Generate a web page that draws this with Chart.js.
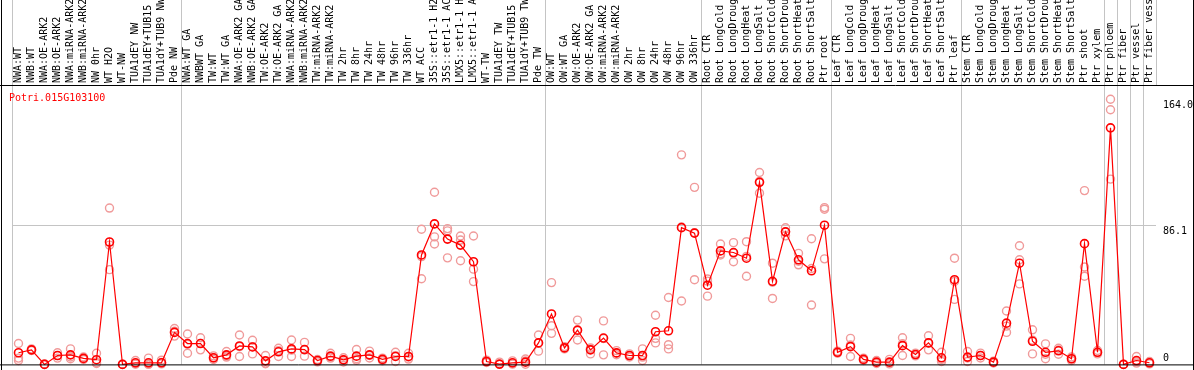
<!DOCTYPE html>
<html><head><meta charset="utf-8">
<script src="https://cdn.jsdelivr.net/npm/chart.js@4.4.1/dist/chart.umd.min.js"></script>
<style>html,body{margin:0;padding:0;background:#fff;overflow:hidden}canvas{display:block}</style>
</head><body>
<canvas id="c" width="1194" height="370"></canvas>
<script>
const geneId = 'Potri.015G103100';

const categories = [
  'NWA:WT','NWB:WT','NWA:OE-ARK2','NWB:OE-ARK2','NWA:miRNA-ARK2','NWB:miRNA-ARK2','NW 0hr','WT H2O','WT-NW',
  'TUA1dEY NW','TUA1dEY+TUB15 NW','TUA1dY+TUB9 NW','Pde NW',
  'NWA:WT GA','NWBWT GA','TW:WT','TW:WT GA','NWA:OE-ARK2 GA','NWB:OE-ARK2 GA','TW:OE-ARK2','TW:OE-ARK2 GA',
  'NWA:miRNA-ARK2 GA','NWB:miRNA-ARK2 GA','TW:miRNA-ARK2','TW:miRNA-ARK2',
  'TW 2hr','TW 8hr','TW 24hr','TW 48hr','TW 96hr','TW 336hr','WT ACC',
  '35S::etr1-1 H2O','35S::etr1-1 ACC','LMX5::etr1-1 H2O','LMX5::etr1-1 ACC','WT-TW',
  'TUA1dEY TW','TUA1dEY+TUB15 TW','TUA1dY+TUB9 TW','Pde TW',
  'OW:WT','OW:WT GA','OW:OE-ARK2','OW:OE-ARK2 GA','OW:miRNA-ARK2','OW:miRNA-ARK2',
  'OW 2hr','OW 8hr','OW 24hr','OW 48hr','OW 96hr','OW 336hr',
  'Root CTR','Root LongCold','Root LongDrought','Root LongHeat','Root LongSalt',
  'Root ShortCold','Root ShortDrought','Root ShortHeat','Root ShortSalt','Ptr root',
  'Leaf CTR','Leaf LongCold','Leaf LongDrought','Leaf LongHeat','Leaf LongSalt',
  'Leaf ShortCold','Leaf ShortDrought','Leaf ShortHeat','Leaf ShortSalt','Ptr leaf',
  'Stem CTR','Stem LongCold','Stem LongDrought','Stem LongHeat','Stem LongSalt',
  'Stem ShortCold','Stem ShortDrought','Stem ShortHeat','Stem ShortSalt',
  'Ptr shoot','Ptr xylem','Ptr phloem','Ptr fiber','Ptr vessel','Ptr fiber vessel'
];

const meanValues = [
  7.2, 9.0, 0.0, 5.5, 5.9, 3.7, 2.9, 75.7, 0.0,
  1.0, 1.0, 1.0, 19.8,
  12.9, 12.9, 4.1, 5.9, 11.4, 10.8, 2.2, 7.8,
  9.6, 9.2, 2.4, 5.1,
  2.8, 5.1, 5.9, 3.1, 4.9, 4.9, 67.7,
  86.9, 77.5, 73.8, 63.5, 1.8,
  0.2, 1.0, 1.4, 13.3,
  31.2, 10.2, 21.2, 9.0, 16.3, 7.1,
  5.5, 5.5, 20.2, 20.8, 84.6, 81.2,
  49.0, 70.2, 69.2, 65.7, 112.6,
  51.4, 82.0, 64.7, 57.9, 86.1,
  7.5, 11.0, 3.1, 1.4, 1.4,
  11.6, 6.1, 13.3, 4.1, 52.4,
  4.5, 5.5, 1.4, 25.5, 62.6,
  14.3, 7.5, 8.4, 3.5,
  74.7, 7.5, 146.3, 0.0, 2.4, 1.0
];

const replicateValues = [
  [12.9, 3.9, 2.4], [9.6, 8.6, 8.8], [0.3, 0.0, 0.1], [7.2, 3.9, 5.4], [9.6, 3.5, 4.6], [4.6, 3.0, 3.5], [6.9, 1.2, 0.6], [96.7, 73.8, 58.6], [0.0, 0.1, 0.0],
  [2.4, 0.4, 0.2], [3.9, 0.3, 0.0], [2.6, 1.2, 0.3], [22.2, 20.5, 17.5],
  [18.8, 12.5, 6.9], [16.5, 13.0, 9.0], [5.3, 3.0, 4.0], [8.0, 4.5, 5.2], [18.2, 11.0, 4.9], [14.9, 10.9, 6.5], [5.5, 0.8, 0.4], [10.0, 8.5, 4.9],
  [15.1, 8.8, 4.9], [13.6, 8.9, 5.1], [3.0, 2.6, 1.6], [6.9, 4.5, 3.9],
  [4.1, 2.8, 1.5], [9.2, 3.5, 2.6], [8.2, 5.5, 4.0], [3.9, 3.1, 2.3], [7.5, 5.4, 1.8], [6.9, 4.5, 3.3], [83.6, 66.7, 53.0],
  [106.5, 78.9, 74.5], [84.0, 82.6, 65.9], [79.4, 76.9, 64.1], [79.4, 58.9, 51.2], [2.6, 1.8, 1.2],
  [1.4, 0.0, 0.0], [2.2, 0.6, 0.2], [3.3, 2.2, 0.1], [18.2, 13.4, 8.2],
  [50.6, 23.9, 19.2], [11.0, 10.0, 9.6], [27.4, 21.0, 15.1], [10.2, 9.5, 6.5], [26.9, 16.0, 5.9], [8.5, 7.0, 6.0],
  [6.5, 5.4, 4.6], [9.6, 4.5, 2.4], [30.4, 16.1, 13.3], [41.4, 12.2, 9.6], [129.6, 85.0, 39.2], [109.5, 81.5, 52.4],
  [52.8, 51.5, 42.2], [74.5, 68.5, 67.7], [75.3, 68.8, 63.5], [75.9, 66.8, 54.5], [118.7, 113.2, 105.9],
  [62.6, 50.8, 40.8], [84.5, 82.0, 79.5], [68.7, 63.8, 61.6], [77.7, 59.3, 36.7], [97.0, 96.0, 65.3],
  [8.2, 7.4, 6.9], [16.1, 12.0, 4.9], [3.9, 3.0, 2.4], [2.4, 1.2, 0.6], [3.1, 0.8, 0.3],
  [16.5, 12.8, 5.5], [7.0, 6.0, 5.3], [17.7, 13.2, 9.0], [7.5, 3.1, 1.8], [65.7, 51.3, 40.2],
  [8.0, 4.0, 1.8], [7.0, 5.5, 4.0], [2.0, 1.2, 0.9], [33.0, 23.7, 19.8], [73.4, 64.7, 49.8],
  [21.4, 15.0, 6.5], [12.7, 6.3, 3.5], [10.0, 8.9, 6.3], [4.6, 3.5, 2.4],
  [107.5, 60.2, 54.5], [8.6, 7.3, 6.5], [164.0, 157.5, 114.6], [0.0, 0.0, 0.0], [4.9, 1.6, 0.8], [1.8, 1.0, 0.3]
];

const yTickValues = [0, 86.1, 164.0];
const yTickLabels = ['0', '86.1', '164.0'];
const yAxisMax = 172.2;
const groupStarts = [0, 13, 41, 53, 63, 73, 84, 85, 86, 87, 88];

const FONT = "'DejaVu Sans Mono', 'Liberation Mono', monospace";
const GRID = '#c4c4c4';
const RED = '#ff0000';
const PINK = '#f09a9a';

const alignPx = p => Math.round(p - 0.5) + 0.5;

const framePlugin = {
  id: 'frame',
  afterDraw(chart) {
    const ctx = chart.ctx, xs = chart.scales.x, ys = chart.scales.y, area = chart.chartArea;
    const W = chart.width, H = chart.height;
    ctx.save();
    ctx.lineWidth = 1;
    ctx.strokeStyle = GRID;
    groupStarts.forEach(s => {
      const px = alignPx(xs.getPixelForValue(s - 0.5));
      ctx.beginPath(); ctx.moveTo(px, 0); ctx.lineTo(px, area.top); ctx.stroke();
    });
    ctx.strokeStyle = '#000';
    ctx.beginPath();
    ctx.moveTo(1.5, 0); ctx.lineTo(1.5, H);
    ctx.moveTo(W - 0.5, 0); ctx.lineTo(W - 0.5, H);
    ctx.moveTo(0, area.top - 0.5); ctx.lineTo(W, area.top - 0.5);
    ctx.moveTo(0, area.bottom + 0.5); ctx.lineTo(W, area.bottom + 0.5);
    ctx.stroke();
    ctx.fillStyle = RED;
    ctx.font = '10px ' + FONT;
    ctx.textAlign = 'left';
    ctx.textBaseline = 'alphabetic';
    ctx.fillText(geneId, 9, 101);
    ctx.fillStyle = '#000';
    yTickValues.forEach((v, i) => {
      const py = ys.getPixelForValue(v);
      if (v === 0) { ctx.textBaseline = 'alphabetic'; ctx.fillText(yTickLabels[i], ys.left + 7, py - 3); }
      else { ctx.textBaseline = 'top'; ctx.fillText(yTickLabels[i], ys.left + 7, py + 1); }
    });
    ctx.restore();
  }
};

const repDatasets = [0, 1, 2].map(k => ({
  label: 'replicate ' + (k + 1),
  data: replicateValues.map(r => r[k]),
  showLine: false,
  borderColor: PINK,
  backgroundColor: 'rgba(0,0,0,0)',
  pointRadius: 4,
  pointBorderWidth: 1.4,
  pointBorderColor: PINK,
  pointBackgroundColor: 'rgba(0,0,0,0)',
  clip: false,
  order: 2
}));

new Chart(document.getElementById('c'), {
  type: 'line',
  data: {
    labels: categories,
    datasets: [{
      label: geneId,
      data: meanValues,
      borderColor: RED,
      borderWidth: 1.2,
      tension: 0,
      pointRadius: 4,
      pointBorderWidth: 1.6,
      pointBorderColor: RED,
      pointBackgroundColor: 'rgba(0,0,0,0)',
      clip: false,
      order: 1
    }, ...repDatasets]
  },
  options: {
    responsive: false,
    devicePixelRatio: 1,
    animation: false,
    events: [],
    layout: { padding: { left: 12, right: 0, top: 0, bottom: 1 } },
    plugins: { legend: { display: false }, tooltip: { enabled: false }, title: { display: false } },
    scales: {
      x: {
        type: 'category',
        position: 'top',
        offset: true,
        grid: {
          offset: true,
          drawTicks: false,
          lineWidth: 1,
          color: ctx => groupStarts.includes(ctx.index) ? GRID : 'rgba(0,0,0,0)'
        },
        border: { display: false },
        ticks: {
          autoSkip: false,
          maxRotation: 90,
          minRotation: 90,
          padding: 3,
          labelOffset: 12,
          color: '#000',
          font: { family: FONT, size: 10 }
        },
        afterFit: s => { s.height = 86; }
      },
      y: {
        position: 'right',
        min: 0,
        max: yAxisMax,
        afterBuildTicks: s => { s.ticks = yTickValues.map(v => ({ value: v })); },
        grid: {
          drawTicks: false,
          lineWidth: 1,
          color: ctx => ctx.index === 1 ? GRID : 'rgba(0,0,0,0)'
        },
        border: { display: false },
        ticks: { display: false },
        afterFit: s => { s.width = 38; }
      }
    }
  },
  plugins: [framePlugin]
});
</script>
</body></html>
